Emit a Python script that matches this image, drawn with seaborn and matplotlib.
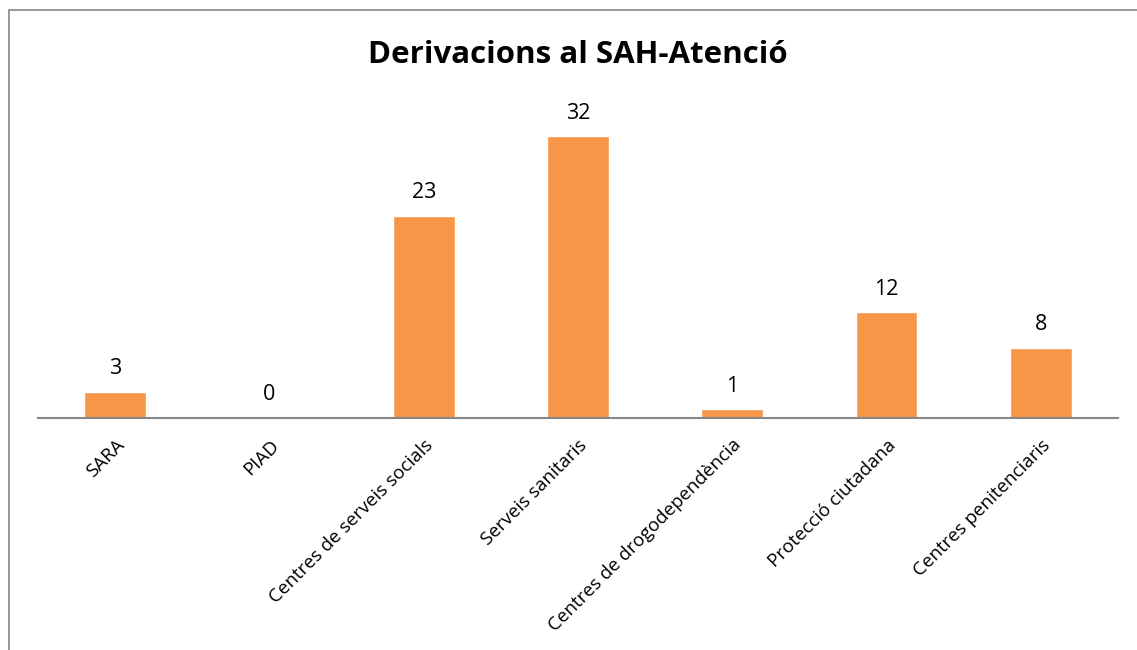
import matplotlib
matplotlib.use("Agg")
import matplotlib.pyplot as plt
import seaborn as sns
import pandas as pd
from matplotlib.patches import Rectangle

# dades
categories = ["SARA", "PIAD", "Centres de serveis socials", "Serveis sanitaris",
              "Centres de drogodependència", "Protecció ciutadana", "Centres penitenciaris"]
values = [3, 0, 23, 32, 1, 12, 8]
title = "Derivacions al SAH-Atenció"

df = pd.DataFrame({"cat": categories, "val": values})

sns.set_style("white")
plt.rcParams['font.family'] = ['Open Sans', 'DejaVu Sans']
plt.rcParams['text.color'] = 'black'
plt.rcParams['xtick.color'] = 'black'

fig = plt.figure(figsize=(11.37, 6.5), dpi=100)
ax = fig.add_axes([38 / 1137, (650 - 418) / 650, 1080 / 1137, 308 / 650])

sns.barplot(data=df, x="cat", y="val", color="#F79646", width=0.4,
            saturation=1, ax=ax)
ax.set_ylim(0, 35)
ax.set_xlim(-0.5, len(categories) - 0.5)

# etiquetes de valor
for i, v in enumerate(values):
    ax.annotate(str(v), (i, v), xytext=(0, 9), textcoords="offset points",
                ha="center", va="bottom", fontsize=15.5, color="black")

ax.set_xlabel("")
ax.set_ylabel("")
ax.set_yticks([])
ax.tick_params(axis="x", length=0, pad=13)
for lbl in ax.get_xticklabels():
    lbl.set_rotation(45)
    lbl.set_ha("right")
    lbl.set_rotation_mode("anchor")
    lbl.set_fontsize(13.5)
    lbl.set_color("black")

for s in ["top", "right", "left"]:
    ax.spines[s].set_visible(False)
ax.spines["bottom"].set_color("#868686")
ax.spines["bottom"].set_linewidth(1.5)

fig.text(578 / 1137, 1 - 55 / 650, title, ha="center", va="center",
         fontsize=22.5, fontweight="bold", color="black")

# vora del gràfic
fig.patches.append(Rectangle((9 / 1137, -0.1), 1.2, 1.1 - 10 / 650,
                             transform=fig.transFigure, fill=False,
                             edgecolor="#868686", linewidth=1.2))

fig.savefig("out.png", dpi=100)
